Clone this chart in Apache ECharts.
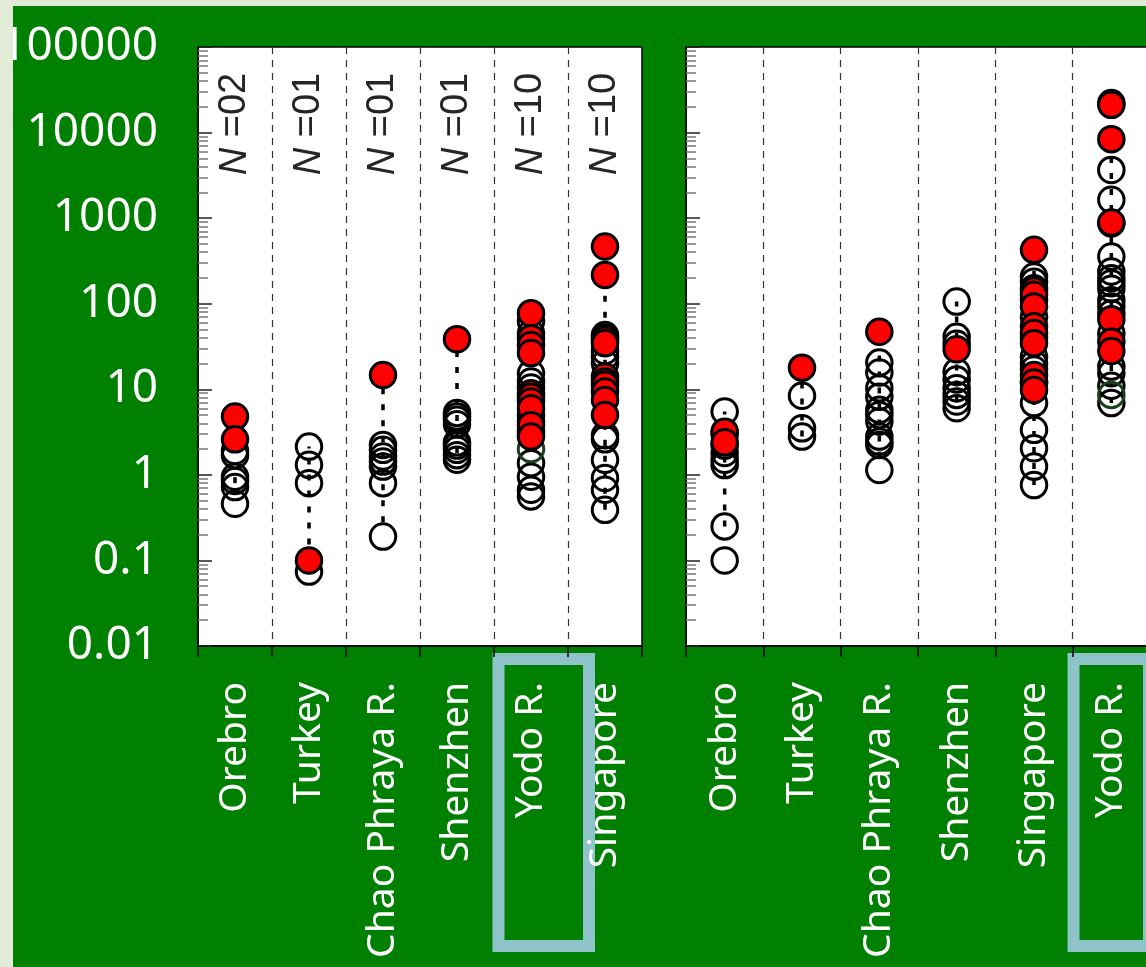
<!DOCTYPE html>
<html>
<head>
<meta charset="utf-8">
<style>
  html, body { margin: 0; padding: 0; background: #e2ebd6; }
  #chart { width: 1146px; height: 967px; }
</style>
<script src="https://cdn.jsdelivr.net/npm/echarts@6/dist/echarts.min.js"></script>
</head>
<body>
<div id="chart"></div>
<script>
// ---- sites shown in each panel ----
const leftSites = ['Orebro', 'Turkey', 'Chao Phraya R.', 'Shenzhen', 'Yodo R.', 'Singapore'];
const rightSites = ['Orebro', 'Turkey', 'Chao Phraya R.', 'Shenzhen', 'Singapore', 'Yodo R.'];

// ---- left panel: values per site (log scale) ----
const leftOpen = [
  [1.9, 1.7, 0.95, 0.85, 0.72, 0.46],
  [2.14, 1.31, 0.80, 0.074],
  [2.24, 1.96, 1.64, 1.43, 1.25, 0.80, 0.19],
  [5.3, 4.8, 4.4, 3.9, 2.4, 2.2, 1.96, 1.7, 1.5],
  [62, 45, 15.4, 12.3, 10.5, 5.0, 4.2, 3.2, 1.37, 0.95, 0.67, 0.56],
  [43, 40, 28, 24, 20, 2.9, 2.6, 1.5, 0.92, 0.67, 0.39]
];
const leftRed = [
  [4.8, 2.6],
  [0.10],
  [14.7],
  [38.5],
  [77.5, 39.6, 33, 26.5, 9.0, 8.2, 7.2, 6.0, 3.8, 2.8],
  [466, 217, 37.8, 34.6, 14.1, 12.3, 11.3, 9.4, 7.5, 5.0]
];
const leftOther = [[], [], [], [], [2.0], []];
const leftRangeLow = [0.8, 0.1, 0.28, 1.8, null, 0.39];
const leftRangeHigh = [1.0, 2.14, 14.7, 38.5, null, 466];

// ---- right panel ----
const rightOpen = [
  [5.5, 3.0, 2.2, 1.8, 1.5, 1.3, 0.25, 0.10],
  [8.4, 3.5, 2.8],
  [20.5, 15.7, 10.3, 8.2, 5.75, 5.0, 4.2, 2.8, 2.45, 2.24, 1.14],
  [106, 41, 34, 16, 13, 10.3, 8.6, 7.2, 6.0],
  [208, 181, 152, 110, 70, 40, 24, 20, 17, 12, 6.9, 3.36, 2.05, 1.25, 0.76],
  [22100, 3660, 1640, 870, 356, 238, 199, 174, 150, 110, 93, 77, 45, 18.4, 15.4, 11, 6.9]
];
const rightRed = [
  [3.2, 2.4],
  [17.9],
  [47],
  [29.4],
  [426, 143, 127, 93, 54.6, 45.6, 34.6, 14.7, 12, 9.8],
  [21100, 8380, 889, 66, 36, 28]
];
const rightOther = [[], [], [], [], [], [8.6]];
const rightRangeLow = [0.25, 2.8, 1.6, 7, 0.76, 6.9];
const rightRangeHigh = [5.5, 17.9, 47, 106, 426, 21100];

// ---- value axis ----
const yTickLabels = ['0.01', '0.1', '1', '10', '100', '1000', '10000', '100000'];
const yMin = 0.01;
const yMax = 100000;
const nLabelAnchor = 12600;   // height at which the N = .. captions sit

// ---- helpers ----
function toPoints(groups) {
  const out = [];
  groups.forEach((g, i) => g.forEach(v => out.push([i, v])));
  return out;
}
function toRanges(low, high) {
  const out = [];
  low.forEach((lo, i) => { if (lo != null && high[i] != null) out.push([i, lo, high[i]]); });
  return out;
}

const labelFont = 'Noto Sans';

function xAxisFor(gridIndex, sites) {
  return {
    type: 'category', gridIndex, data: sites, boundaryGap: true,
    axisLine: { show: true, lineStyle: { color: '#000', width: 1.5 } },
    axisTick: { show: true, inside: false, interval: 0, length: 11, lineStyle: { color: '#000', width: 1.5 } },
    axisLabel: { show: true, interval: 0, rotate: 90, color: '#fff', fontSize: 39, fontFamily: labelFont, margin: 36 },
    splitLine: { show: true, interval: 0, showMinLine: false, showMaxLine: false,
      lineStyle: { color: '#333', width: 1.2, type: [7, 6] } }
  };
}
function yAxisFor(gridIndex, showLabels) {
  return {
    type: 'log', logBase: 10, gridIndex, min: yMin, max: yMax,
    axisLine: { show: true, lineStyle: { color: '#000', width: 1.5 } },
    axisTick: { show: true, inside: true, length: 14, lineStyle: { color: '#222', width: 1.5 } },
    minorTick: { show: true, splitNumber: 9, length: 10, lineStyle: { color: '#777', width: 1.5 } },
    axisLabel: { show: showLabels, color: '#fff', fontSize: 46, fontFamily: labelFont, margin: 40,
      formatter: (v, idx) => yTickLabels[idx] },
    splitLine: { show: false }
  };
}

function rangeSeries(axisIndex, data) {
  return {
    type: 'custom', xAxisIndex: axisIndex, yAxisIndex: axisIndex, z: 2, silent: true,
    data, encode: { x: 0, y: [1, 2] },
    renderItem(params, api) {
      const a = api.coord([api.value(0), api.value(1)]);
      const b = api.coord([api.value(0), api.value(2)]);
      return { type: 'line', shape: { x1: a[0], y1: a[1], x2: b[0], y2: b[1] },
        style: { stroke: '#000', lineWidth: 3.5, lineDash: [6, 10], lineCap: 'butt' } };
    }
  };
}
function dotSeries(axisIndex, data, fill, stroke, z) {
  return {
    type: 'scatter', xAxisIndex: axisIndex, yAxisIndex: axisIndex, z, silent: true,
    symbol: 'circle', symbolSize: 25.5, data,
    itemStyle: { color: fill, borderColor: stroke, borderWidth: 3, opacity: 1 },
    emphasis: { disabled: true }
  };
}

const nCounts = leftRed.map(g => String(g.length).padStart(2, '0'));

// caption text for the site columns of the left panel
const captionStyle = {
  color: '#262626', fontSize: 38, fontFamily: 'Liberation Sans',
  textBorderWidth: 0, textShadowBlur: 0, opacity: 1
};

const option = {
  backgroundColor: '#008000',
  animation: false,
  grid: [
    { left: 198, top: 47, width: 444, height: 599, show: true, backgroundColor: '#fff',
      borderColor: '#000', borderWidth: 1.5, outerBoundsMode: 'none' },
    { left: 686, top: 47, width: 464, height: 599, show: true, backgroundColor: '#fff',
      borderColor: '#000', borderWidth: 1.5, outerBoundsMode: 'none' }
  ],
  xAxis: [xAxisFor(0, leftSites), xAxisFor(1, rightSites)],
  yAxis: [yAxisFor(0, true), yAxisFor(1, false)],
  series: [
    rangeSeries(0, toRanges(leftRangeLow, leftRangeHigh)),
    dotSeries(0, toPoints(leftOpen), 'rgba(0,0,0,0)', '#000', 3),
    dotSeries(0, toPoints(leftOther), 'rgba(0,0,0,0)', '#1a3f1c', 3),
    dotSeries(0, toPoints(leftRed), '#ff0000', '#000', 4),
    {
      type: 'scatter', xAxisIndex: 0, yAxisIndex: 0, z: 5, silent: true,
      symbol: 'circle', symbolSize: 0.1, itemStyle: { color: '#fff', opacity: 0 },
      data: leftSites.map((s, i) => [i, nLabelAnchor]),
      label: Object.assign({
        show: true, position: 'inside', rotate: 90, align: 'center', verticalAlign: 'middle',
        formatter: p => '{i|N} =' + nCounts[p.dataIndex],
        rich: { i: Object.assign({ fontStyle: 'italic' }, captionStyle) }
      }, captionStyle)
    },
    rangeSeries(1, toRanges(rightRangeLow, rightRangeHigh)),
    dotSeries(1, toPoints(rightOpen), 'rgba(0,0,0,0)', '#000', 3),
    dotSeries(1, toPoints(rightOther), 'rgba(0,0,0,0)', '#1a3f1c', 3),
    dotSeries(1, toPoints(rightRed), '#ff0000', '#000', 4)
  ],
  graphic: [
    // pale slide backdrop peeking out along the top and left edges
    { type: 'rect', z: 100, shape: { x: 0, y: 0, width: 1146, height: 6 }, style: { fill: '#e2ebd6' } },
    { type: 'rect', z: 100, shape: { x: 0, y: 0, width: 13, height: 967 }, style: { fill: '#e2ebd6' } },
    // highlight frames around the Yodo R. labels
    { type: 'rect', z: -1, shape: { x: 498.5, y: 659, width: 90.5, height: 287 },
      style: { fill: 'none', stroke: '#8ec4c9', lineWidth: 12 } },
    { type: 'rect', z: -1, shape: { x: 1073.5, y: 659, width: 75.5, height: 287 },
      style: { fill: 'none', stroke: '#8ec4c9', lineWidth: 12 } }
  ]
};

const chart = echarts.init(document.getElementById('chart'), null, { renderer: 'canvas' });
chart.setOption(option);
</script>
</body>
</html>
